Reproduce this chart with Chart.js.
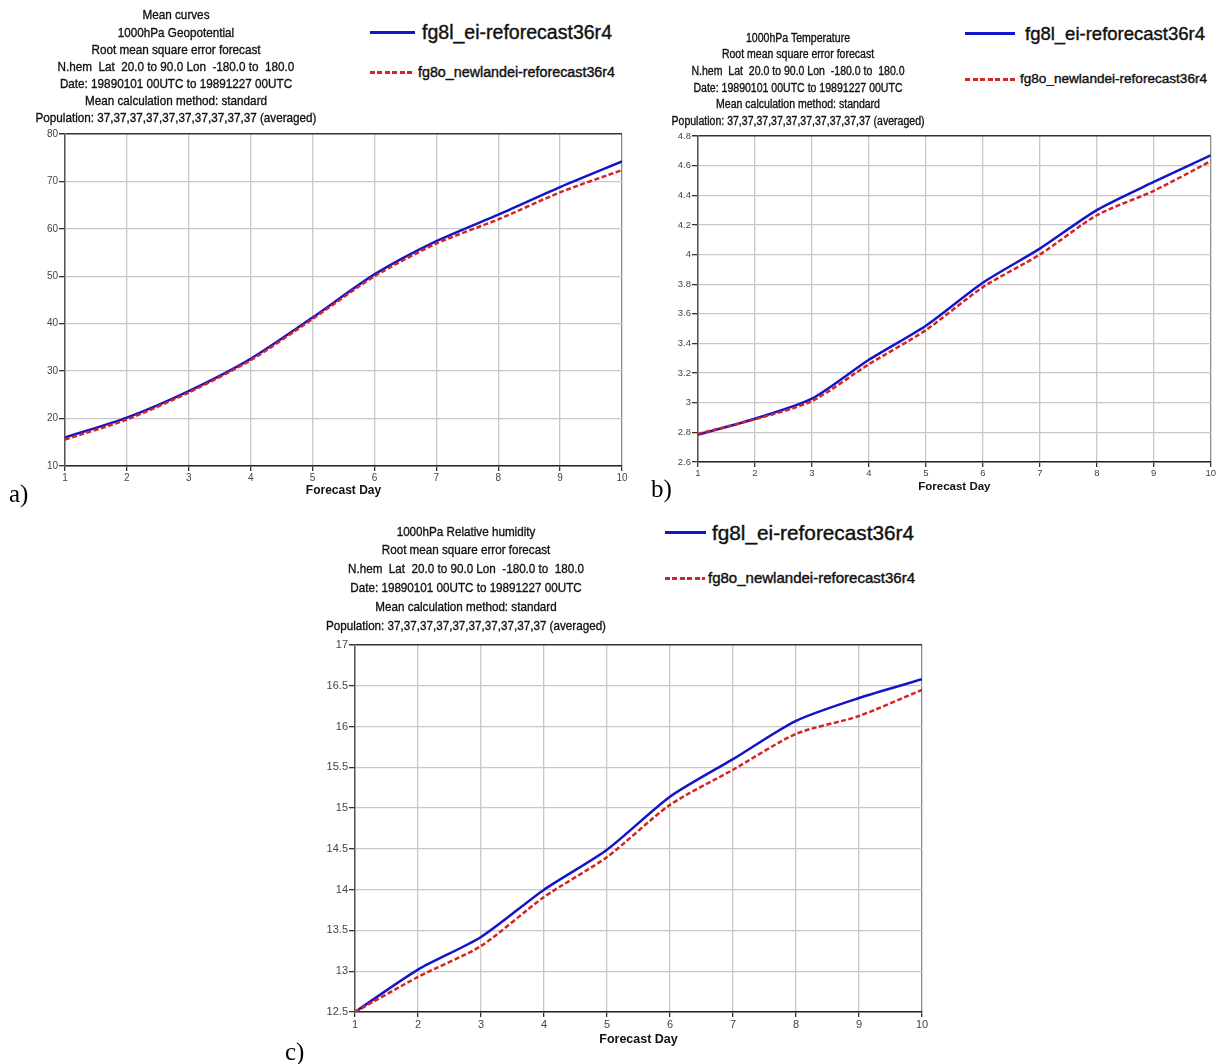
<!DOCTYPE html>
<html>
<head>
<meta charset="utf-8">
<script src="https://cdn.jsdelivr.net/npm/chart.js@4.4.1/dist/chart.umd.min.js"></script>
<style>
  body { margin: 0; background: #fff; width: 1217px; height: 1064px; position: relative; overflow: hidden;
         font-family: "Liberation Sans", Arial, sans-serif; color: #111; }
  canvas { position: absolute; }
  .title { position: absolute; white-space: nowrap; text-align: center; transform-origin: 50% 0; -webkit-text-stroke: 0.35px #111; }
  .lbl { position: absolute; white-space: nowrap; line-height: 1; transform-origin: 0 50%; -webkit-text-stroke: 0.4px #111; }
  .tag { position: absolute; font-family: "Liberation Serif", "Times New Roman", serif; font-size: 25px; line-height: 1; color: #000; }
  .key { position: absolute; height: 2.5px; }
  .key.solid { background: #1414c8; }
  .key.dash { background: repeating-linear-gradient(90deg, #d42424 0 5px, transparent 5px 7.5px); }
</style>
</head>
<body>
<canvas id="chart-geo" style="left:0;top:120px" width="640" height="385"></canvas>
<canvas id="chart-temp" style="left:640px;top:120px" width="577" height="380"></canvas>
<canvas id="chart-rh" style="left:280px;top:630px" width="660" height="420"></canvas>

<script>
const days = [1, 2, 3, 4, 5, 6, 7, 8, 9, 10];
const seriesNames = ['fg8l_ei-reforecast36r4', 'fg8o_newlandei-reforecast36r4'];

// a) 1000hPa geopotential
const geoRef = [16.0, 20.2, 25.8, 32.6, 41.3, 50.4, 57.4, 63.0, 68.8, 74.2];
const geoNew = [15.6, 19.8, 25.5, 32.3, 41.0, 50.0, 56.9, 62.0, 67.7, 72.4];
const geoTicks = [10, 20, 30, 40, 50, 60, 70, 80];

// b) 1000hPa temperature
const tempRef = [2.785, 2.892, 3.027, 3.29, 3.52, 3.81, 4.04, 4.30, 4.49, 4.67];
const tempNew = [2.79, 2.888, 3.011, 3.26, 3.49, 3.78, 4.00, 4.265, 4.43, 4.63];
const tempTicks = [2.6, 2.8, 3, 3.2, 3.4, 3.6, 3.8, 4, 4.2, 4.4, 4.6, 4.8];

// c) 1000hPa relative humidity
const rhRef = [12.5, 13.02, 13.42, 14.0, 14.49, 15.14, 15.6, 16.07, 16.35, 16.58];
const rhNew = [12.5, 12.93, 13.31, 13.91, 14.40, 15.04, 15.47, 15.91, 16.13, 16.45];
const rhTicks = [12.5, 13, 13.5, 14, 14.5, 15, 15.5, 16, 16.5, 17];

const commonLines = [
  'Root mean square error forecast',
  'N.hem  Lat  20.0 to 90.0 Lon  -180.0 to  180.0',
  'Date: 19890101 00UTC to 19891227 00UTC',
  'Mean calculation method: standard',
  'Population: 37,37,37,37,37,37,37,37,37,37 (averaged)',
];
const titleGeo = ['Mean curves', '1000hPa Geopotential'].concat(commonLines);
const titleTemp = ['1000hPa Temperature'].concat(commonLines);
const titleRh = ['1000hPa Relative humidity'].concat(commonLines);

const AXIS_FONT = '"Liberation Sans", Arial, sans-serif';

function addTitle(lines, cx, firstY, step, size, width) {
  const el = document.createElement('div');
  el.className = 'title';
  el.style.fontSize = size + 'px';
  el.style.lineHeight = step + 'px';
  el.style.left = cx + 'px';
  el.style.top = (firstY - step / 2) + 'px';
  el.innerHTML = lines.map((s) => s.replace(/ {2}/g, ' &nbsp;')).join('<br>');
  document.body.appendChild(el);
  const k = width / el.getBoundingClientRect().width;
  el.style.transform = `translateX(-50%) scaleX(${k})`;
}

function addLabel(text, left, cy, size, width) {
  const el = document.createElement('div');
  el.className = 'lbl';
  el.textContent = text;
  el.style.fontSize = size + 'px';
  el.style.left = left + 'px';
  el.style.top = (cy - size / 2) + 'px';
  document.body.appendChild(el);
  const k = width / el.getBoundingClientRect().width;
  el.style.transform = `scaleX(${k})`;
}

function addKey(kind, x0, x1, cy) {
  const el = document.createElement('div');
  el.className = 'key ' + kind;
  el.style.left = x0 + 'px';
  el.style.width = (x1 - x0) + 'px';
  el.style.top = (cy - 1) + 'px';
  document.body.appendChild(el);
}

function addTag(text, left, top) {
  const el = document.createElement('div');
  el.className = 'tag';
  el.textContent = text;
  el.style.left = left + 'px';
  el.style.top = top + 'px';
  document.body.appendChild(el);
}

function points(values) {
  return days.map((d, i) => ({ x: d, y: values[i] }));
}

function renderPanel(canvasId, ref, neu, ticks, o) {
  const yMin = ticks[0];
  const yMax = ticks[ticks.length - 1];
  new Chart(document.getElementById(canvasId), {
    type: 'line',
    data: {
      datasets: [{
        label: seriesNames[1],
        data: points(neu),
        borderColor: '#d42424',
        borderWidth: 2.5,
        borderDash: [5, 2.5],
        pointRadius: 0,
        tension: 0.25,
        order: 0,
      }, {
        label: seriesNames[0],
        data: points(ref),
        borderColor: '#1414c8',
        borderWidth: 2.5,
        pointRadius: 0,
        tension: 0.25,
        order: 1,
      }],
    },
    options: {
      responsive: false,
      animation: false,
      events: [],
      layout: { padding: { top: o.padTop, right: o.padRight, left: 0, bottom: 0 } },
      plugins: { legend: { display: false }, tooltip: { enabled: false } },
      scales: {
        x: {
          type: 'linear',
          min: 1,
          max: 10,
          afterBuildTicks: (scale) => { scale.ticks = days.map((v) => ({ value: v })); },
          afterFit: (scale) => { scale.height = o.xHeight; },
          ticks: { color: '#444', font: { size: o.tickSize, family: AXIS_FONT }, padding: 1, maxRotation: 0 },
          grid: { color: (c) => (c.tick && c.tick.value === 10 ? '#8c8c8c' : '#c8c8c8'), lineWidth: 1.3, tickLength: 5, tickColor: '#333' },
          border: { color: '#222', width: 1.5 },
          title: { display: true, text: 'Forecast Day', color: '#111', font: { size: o.titleSize, family: AXIS_FONT, weight: 'bold' }, padding: { top: 0, bottom: o.titlePad } },
        },
        y: {
          type: 'linear',
          min: yMin,
          max: yMax,
          afterBuildTicks: (scale) => { scale.ticks = ticks.map((v) => ({ value: v })); },
          afterFit: (scale) => { scale.width = o.yWidth; },
          ticks: { color: '#444', font: { size: o.tickSize, family: AXIS_FONT }, padding: 1, callback: (v) => String(+v.toFixed(2)) },
          grid: { color: (c) => (c.tick && c.tick.value === yMax ? '#333' : '#c8c8c8'), lineWidth: (c) => (c.tick && c.tick.value === yMax ? 1.5 : 1.3), tickLength: 6, tickColor: '#333' },
          border: { color: '#555', width: 1.5 },
        },
      },
    },
  });
}

renderPanel('chart-geo', geoRef, geoNew, geoTicks, { padTop: 14, padRight: 18, yWidth: 65, xHeight: 39, tickSize: 10, titleSize: 12, titlePad: 7 });
renderPanel('chart-temp', tempRef, tempNew, tempTicks, { padTop: 16, padRight: 6, yWidth: 58, xHeight: 38, tickSize: 9.5, titleSize: 11.5, titlePad: 6 });
renderPanel('chart-rh', rhRef, rhNew, rhTicks, { padTop: 15, padRight: 18, yWidth: 75, xHeight: 38, tickSize: 11, titleSize: 12.5, titlePad: 3 });

addTitle(titleGeo, 176, 15, 17.1, 13, 281);
addTitle(titleTemp, 798, 38, 16.7, 12, 253);
addTitle(titleRh, 466, 532, 18.8, 13.5, 280);

addKey('solid', 370, 415, 32);
addLabel(seriesNames[0], 422, 32, 20, 190);
addKey('dash', 370, 415, 72);
addLabel(seriesNames[1], 418, 72, 14, 197);

addKey('solid', 965, 1015, 33);
addLabel(seriesNames[0], 1025, 33, 19, 180);
addKey('dash', 965, 1015, 79);
addLabel(seriesNames[1], 1020, 79, 13.5, 187);

addKey('solid', 665, 706, 532);
addLabel(seriesNames[0], 712, 532, 21, 202);
addKey('dash', 665, 705, 578);
addLabel(seriesNames[1], 708, 578, 14.5, 207);

addTag('a)', 9, 481);
addTag('b)', 651, 476);
addTag('c)', 285, 1039);
</script>
</body>
</html>
